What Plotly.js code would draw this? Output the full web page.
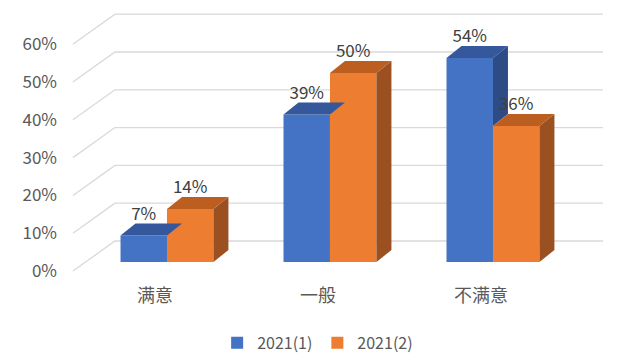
<!DOCTYPE html>
<html><head><meta charset="utf-8">
<script src="https://cdn.plot.ly/plotly-3.0.1.min.js"></script>
<style>html,body{margin:0;padding:0;background:#fff}#c{width:629px;height:361px}</style>
</head><body><div id="c"></div>
<script>
var categories = ['满意', '一般', '不满意'];
var series1 = [7, 39, 54];
var series2 = [14, 50, 36];
var seriesNames = ['2021(1)', '2021(2)'];
var yTicks = [0, 10, 20, 30, 40, 50, 60];

var FONT = '"Noto Sans CJK SC", "Noto Sans", sans-serif';
var GREY = '#595959';
var W = 0.285;            // bar width (category units)
var DX = 0.092, DY = 3.17; // depth offset
var idx = categories.map(function(_, i){ return i; });

var traces = [];
// back-wall gridlines as shapes below traces
var shapes = [];
yTicks.forEach(function(v){
  shapes.push({type:'path', xref:'x', yref:'y', layer:'below',
    path:'M -0.577,' + (v - 2.38) + ' L -0.319,' + (v + 5.56) + ' L 2.675,' + (v + 5.56),
    line:{color:'#d9d9d9', width:1.3}});
});

// front faces (bars)
traces.push({type:'bar', x:idx.map(function(i){return i - W/2;}), y:series1, width:W,
  name:seriesNames[0], marker:{color:'#4472C4', line:{width:0}}, hoverinfo:'skip'});
traces.push({type:'bar', x:idx.map(function(i){return i + W/2;}), y:series2, width:W,
  name:seriesNames[1], marker:{color:'#ED7D31', line:{width:0}}, hoverinfo:'skip'});

function poly(xs, ys, color){
  traces.push({type:'scatter', mode:'lines', x:xs.concat([xs[0]]), y:ys.concat([ys[0]]),
    fill:'toself', fillcolor:color, line:{width:0, color:color}, hoverinfo:'skip', showlegend:false});
}
idx.forEach(function(i){
  var b = series1[i], o = series2[i];
  var bx0 = i - W, bx1 = i;
  var ox0 = i, ox1 = i + W;
  poly([bx0, bx1, bx1 + DX, bx0 + DX], [b, b, b + DY, b + DY], '#34589B');
  if (b > o) poly([bx1, bx1, bx1 + DX, bx1 + DX], [o, b, b + DY, o + DY], '#2D4B85');
  poly([ox1, ox1, ox1 + DX, ox1 + DX], [0, o, o + DY, DY], '#9A5020');
  poly([ox0, ox1, ox1 + DX, ox0 + DX], [o, o, o + DY, o + DY], '#BC5E1F');
});

// data labels
var lx = [], ly = [], lt = [];
idx.forEach(function(i){
  lx.push(i - W/2, i + W/2);
  ly.push(series1[i] + 5.3, series2[i] + 5.3);
  lt.push(series1[i] + '%', series2[i] + '%');
});
traces.push({type:'scatter', mode:'text', x:lx, y:ly, text:lt, textposition:'middle center',
  textfont:{family:FONT, size:17, color:'#404040'}, hoverinfo:'skip', showlegend:false});

traces.push({type:'scatter', mode:'none', x:[0], y:[0], yaxis:'y2', hoverinfo:'skip', showlegend:false});

var layout = {
  width:629, height:361,
  margin:{l:62, r:19, t:10, b:81},
  paper_bgcolor:'#fff', plot_bgcolor:'rgba(0,0,0,0)',
  barmode:'overlay',
  showlegend:true,
  shapes:shapes,
  xaxis:{range:[-0.644, 2.718], tickvals:idx, ticktext:categories, showgrid:false, zeroline:false,
    showline:false, ticks:'', ticklabelshift:-12, ticklabelstandoff:3,
    tickfont:{family:FONT, size:18, color:GREY}, fixedrange:true},
  yaxis:{range:[-4.76, 66.67], showgrid:false, zeroline:false, showticklabels:false, fixedrange:true},
  yaxis2:{overlaying:'y', side:'left', range:[-2.38, 69.05], tickvals:yTicks,
    ticktext:yTicks.map(function(v){return v + '%';}), showgrid:false, zeroline:false,
    showline:false, ticks:'', ticklabelstandoff:4, tickfont:{family:FONT, size:17, color:GREY}, fixedrange:true},
  legend:{orientation:'h', xref:'container', yref:'container', x:0.505, xanchor:'center',
    y:0.05, yanchor:'middle', font:{family:FONT, size:16, color:GREY}, itemwidth:30,
    traceorder:'normal'},
};
Plotly.newPlot('c', traces, layout, {displayModeBar:false, staticPlot:true});
</script></body></html>
